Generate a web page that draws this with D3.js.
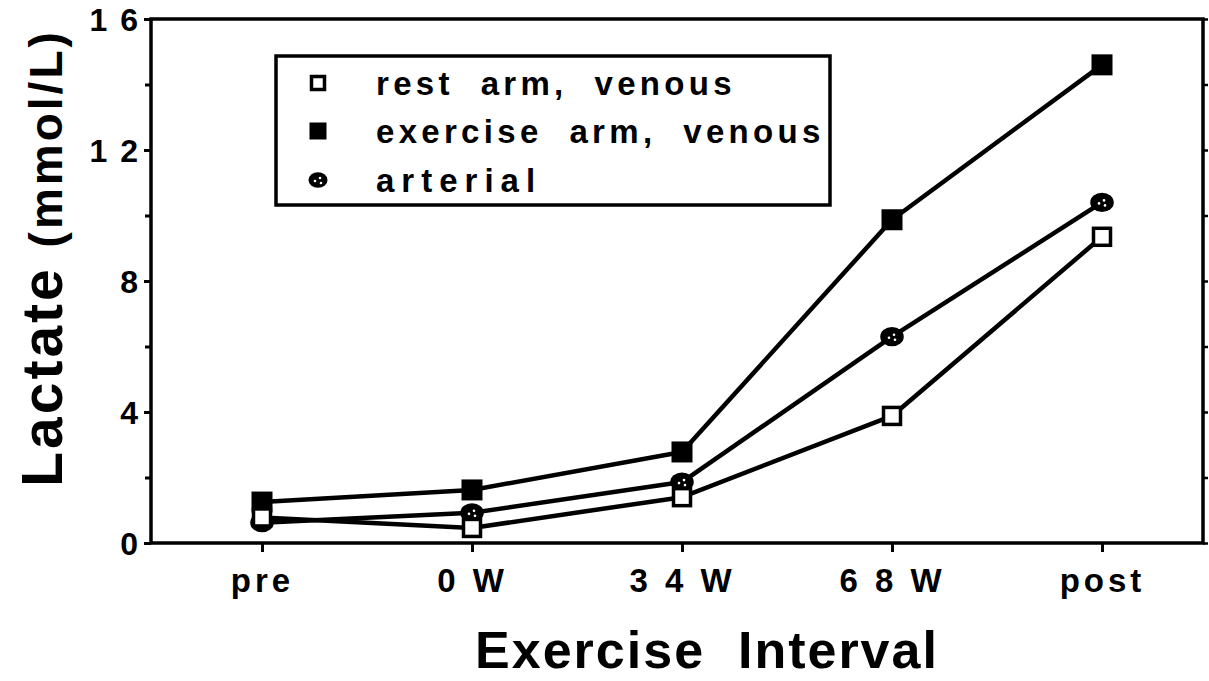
<!DOCTYPE html>
<html>
<head>
<meta charset="utf-8">
<script src="https://cdn.jsdelivr.net/npm/d3@7"></script>
<style>
  body { margin: 0; background: #fff; }
  svg { display: block; }
  text { font-family: "Liberation Sans", Arial, Helvetica, sans-serif; font-weight: bold; fill: #000; }
</style>
</head>
<body>
<div id="chart"></div>
<script>
// chart values
var intervals = ['pre', '0W', '34W', '68W', 'post'];
var tickLabels = ['pre', '0 W', '3 4 W', '6 8 W', 'post'];
var yTicks = [0, 4, 8, 12, 16];
var yTickLabels = ['0', '4', '8', '1 2', '1 6'];
var yMinorTicks = [2, 6, 10, 14];
var restArm = [0.78, 0.46, 1.4, 3.88, 9.35];
var exerciseArm = [1.25, 1.62, 2.78, 9.87, 14.6];
var arterial = [0.62, 0.92, 1.86, 6.3, 10.4];
var legendLabels = ['rest  arm,  venous', 'exercise  arm,  venous', 'arterial'];

// keep repeated spaces as they are in the print
function keepSpaces(s) { return s.replace(/ /g, '\u00a0'); }

var W = 1209, H = 681;
var plotL = 151, plotR = 1203, plotT = 19, plotB = 543;

var svg = d3.select('#chart').append('svg')
    .attr('width', W)
    .attr('height', H);

var x = d3.scalePoint()
    .domain(intervals)
    .range([262, 1102]);

var y = d3.scaleLinear()
    .domain([0, 16])
    .range([plotB, plotT]);

// frame
svg.append('rect')
    .attr('x', plotL).attr('y', plotT)
    .attr('width', plotR - plotL).attr('height', plotB - plotT)
    .attr('fill', 'none').attr('stroke', '#000').attr('stroke-width', 3.5);

// left axis
var yAxis = d3.axisLeft(y).tickValues(yTicks).tickSize(7)
    .tickFormat(function (d, i) { return keepSpaces(yTickLabels[i]); });
var gy = svg.append('g').attr('transform', 'translate(' + plotL + ',0)').call(yAxis);
gy.select('.domain').remove();
gy.selectAll('line').attr('stroke', '#000').attr('stroke-width', 3);
gy.selectAll('text').attr('font-size', 32).attr('x', -11).attr('dy', '0.36em')
    .style('letter-spacing', '2px');

var gyMinor = svg.append('g').attr('transform', 'translate(' + plotL + ',0)')
    .call(d3.axisLeft(y).tickValues(yMinorTicks).tickSize(6).tickFormat(''));
gyMinor.select('.domain').remove();
gyMinor.selectAll('line').attr('stroke', '#000').attr('stroke-width', 3);

// right axis ticks
var gr = svg.append('g').attr('transform', 'translate(' + plotR + ',0)')
    .call(d3.axisRight(y).tickValues(yTicks.concat(yMinorTicks)).tickSize(5).tickFormat(''));
gr.select('.domain').remove();
gr.selectAll('line').attr('stroke', '#000').attr('stroke-width', 2.5);

// bottom axis
var xAxis = d3.axisBottom(x).tickSize(9)
    .tickFormat(function (d, i) { return keepSpaces(tickLabels[i]); });
var gx = svg.append('g').attr('transform', 'translate(0,' + plotB + ')').call(xAxis);
gx.select('.domain').remove();
gx.selectAll('line').attr('stroke', '#000').attr('stroke-width', 3);
gx.selectAll('text').attr('font-size', 33).attr('y', 26).attr('dy', '0.71em')
    .style('letter-spacing', '4px');

// axis titles
svg.append('text')
    .attr('x', 707).attr('y', 668)
    .attr('text-anchor', 'middle')
    .attr('font-size', 52)
    .style('letter-spacing', '2px')
    .text(keepSpaces('Exercise  Interval'));

var yt = svg.append('text')
    .attr('transform', 'translate(62,258) rotate(-90)')
    .attr('text-anchor', 'middle');
yt.append('tspan').attr('font-size', 57).style('letter-spacing', '3px').text(keepSpaces('Lactate '));
yt.append('tspan').attr('font-size', 46).style('letter-spacing', '3px').text('(mmol/L)');

// lines
var line = d3.line()
    .x(function (d, i) { return x(intervals[i]); })
    .y(function (d) { return y(d); });

var series = [
    { values: exerciseArm, kind: 'filled' },
    { values: arterial, kind: 'circle' },
    { values: restArm, kind: 'open' }
];

series.forEach(function (s) {
    svg.append('path')
        .datum(s.values)
        .attr('d', line)
        .attr('fill', 'none')
        .attr('stroke', '#000')
        .attr('stroke-width', 4.5)
        .attr('stroke-linejoin', 'round');
});

function drawMarker(g, kind, cx, cy, sz) {
    if (kind === 'filled') {
        g.append('rect').attr('x', cx - sz / 2).attr('y', cy - sz / 2)
            .attr('width', sz).attr('height', sz).attr('fill', '#000');
    } else if (kind === 'open') {
        g.append('rect').attr('x', cx - sz / 2 + 2).attr('y', cy - sz / 2 + 2)
            .attr('width', sz - 4).attr('height', sz - 4)
            .attr('fill', '#fff').attr('stroke', '#000').attr('stroke-width', 3.5);
    } else {
        g.append('ellipse').attr('cx', cx).attr('cy', cy)
            .attr('rx', sz * 0.56).attr('ry', sz * 0.46).attr('fill', '#000');
        [[-3, 1], [2, -2], [3, 3]].forEach(function (p) {
            g.append('circle').attr('cx', cx + p[0]).attr('cy', cy + p[1])
                .attr('r', 1.3).attr('fill', '#fff');
        });
    }
}

series.forEach(function (s) {
    var g = svg.append('g');
    s.values.forEach(function (v, i) {
        drawMarker(g, s.kind, x(intervals[i]), y(v), 21);
    });
});

// legend
svg.append('rect')
    .attr('x', 276).attr('y', 56)
    .attr('width', 554).attr('height', 149)
    .attr('fill', '#fff').attr('stroke', '#000').attr('stroke-width', 3.5);

var legendKinds = ['open', 'filled', 'circle'];
var legendY = [83, 131, 180];
var legendSpacing = [4.3, 4.3, 7];
legendKinds.forEach(function (k, i) {
    var g = svg.append('g');
    drawMarker(g, k, 318, legendY[i], 17);
    svg.append('text')
        .attr('x', 376).attr('y', legendY[i])
        .attr('dy', '0.36em')
        .attr('font-size', 33)
        .style('letter-spacing', legendSpacing[i] + 'px')
        .text(keepSpaces(legendLabels[i]));
});
</script>
</body>
</html>
